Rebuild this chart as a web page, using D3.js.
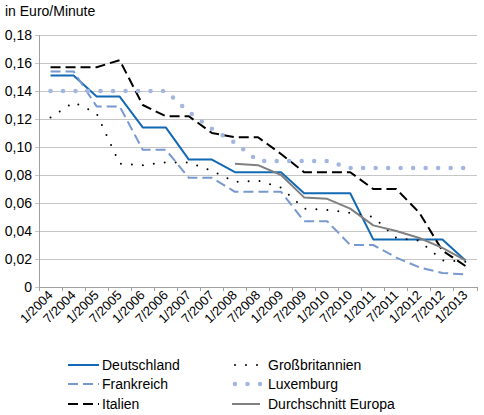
<!DOCTYPE html>
<html><head><meta charset="utf-8">
<script src="https://cdn.jsdelivr.net/npm/d3@7"></script>
<style>
body{margin:0;background:#fff;}
svg{display:block;font-family:Arial,"Liberation Sans",Helvetica,sans-serif;}
</style></head>
<body><svg id="c" width="484" height="415"></svg>
<script>
const categories = ["1/2004","7/2004","1/2005","7/2005","1/2006","7/2006","1/2007","7/2007","1/2008","7/2008","1/2009","7/2009","1/2010","7/2010","1/2011","7/2011","1/2012","7/2012","1/2013"];
const yTicks = [0,0.02,0.04,0.06,0.08,0.10,0.12,0.14,0.16,0.18];
const deutschland = [0.151,0.151,0.136,0.136,0.114,0.114,0.091,0.091,0.082,0.082,0.082,0.067,0.067,0.067,0.034,0.034,0.034,0.034,0.019];
const frankreich  = [0.154,0.154,0.129,0.129,0.098,0.098,0.078,0.078,0.068,0.068,0.068,0.047,0.047,0.030,0.030,0.021,0.014,0.010,0.009];
const italien     = [0.157,0.157,0.157,0.162,0.130,0.122,0.122,0.110,0.107,0.107,0.095,0.082,0.082,0.082,0.070,0.070,0.053,0.026,0.015];
const grossbritannien = [0.121,0.132,0.124,0.088,0.087,0.089,0.089,0.083,0.075,0.076,0.071,0.056,0.055,0.053,0.050,0.035,0.033,0.019,0.018];
const luxemburg   = [0.140,0.140,0.140,0.140,0.140,0.140,0.125,0.113,0.103,0.090,0.090,0.090,0.090,0.085,0.085,0.085,0.085,0.085,0.085];
const europa      = [null,null,null,null,null,null,null,null,0.088,0.087,0.080,0.064,0.063,0.056,0.044,0.040,0.035,0.028,0.019];

const seriesNames = ["Deutschland","Frankreich","Italien","Großbritannien","Luxemburg","Durchschnitt Europa"];
const seriesData = [deutschland,frankreich,italien,grossbritannien,luxemburg,europa];
const styles = [
  {color:"#1369b4", w:2, dash:null, cap:"butt"},
  {color:"#7898d0", w:2, dash:"10,5", cap:"butt"},
  {color:"#000000", w:2, dash:"10,5", cap:"butt"},
  {color:"#000000", w:2, dash:"0,11", cap:"round"},
  {color:"#a3b6e0", w:4.5, dash:"0,12.5", cap:"round"},
  {color:"#808080", w:2, dash:null, cap:"butt"}
];

const svg = d3.select("#c");
const L = 39, R = 477, T = 35, B = 287;
const x = d3.scaleBand().domain(categories).range([L,R]).padding(0);
const y = d3.scaleLinear().domain([0,0.18]).range([B,T]);
const cx = c => x(c) + x.bandwidth()/2;

svg.append("text").attr("x",5).attr("y",16).attr("font-size",14).attr("fill","#000").text("in Euro/Minute");

// grid
const grid = svg.append("g");
yTicks.filter(t=>t>0).forEach(t=>{
  grid.append("line").attr("x1",L-4).attr("x2",R).attr("y1",y(t)).attr("y2",y(t))
    .attr("stroke","#c6c6c6").attr("stroke-width",1).attr("shape-rendering","crispEdges");
});
const yAxis = d3.axisLeft(y).tickValues(yTicks).tickSize(4)
  .tickFormat(d => d===0 ? "0" : d3.format(".2f")(d).replace(".",","));
const ga = svg.append("g").attr("transform",`translate(${L},0)`).call(yAxis);
ga.select(".domain").attr("stroke","#a0a0a0");
ga.selectAll(".tick line").attr("stroke","#c6c6c6");
ga.selectAll(".tick text").attr("font-size",14).attr("fill","#000").attr("x",-7).attr("font-family","Arial,'Liberation Sans',sans-serif");

// x axis
const xAxis = d3.axisBottom(x).tickSize(0).tickSizeOuter(0);
const gx = svg.append("g").attr("transform",`translate(0,${B})`).call(xAxis);
gx.select(".domain").attr("stroke","#a0a0a0");
gx.selectAll(".tick text").attr("font-size",13).attr("fill","#000")
  .attr("font-family","Arial,'Liberation Sans',sans-serif")
  .attr("text-anchor","end").attr("dy",0).attr("y",0)
  .attr("transform","translate(3,9) rotate(-45)");
categories.concat(["__end"]).forEach((c,i)=>{
  const xp = i < categories.length ? x(c) : R;
  gx.append("line").attr("x1",xp).attr("x2",xp).attr("y1",0).attr("y2",4).attr("stroke","#a0a0a0").attr("shape-rendering","crispEdges");
});

// lines
const line = d3.line().defined(d=>d[1]!==null).x(d=>cx(d[0])).y(d=>y(d[1]));
seriesData.forEach((arr,i)=>{
  const s = styles[i];
  svg.append("path").datum(categories.map((c,j)=>[c,arr[j]]))
    .attr("d",line).attr("fill","none").attr("stroke",s.color).attr("stroke-width",s.w)
    .attr("stroke-dasharray",s.dash).attr("stroke-linecap",s.cap).attr("stroke-linejoin","round");
});

// legend
const lg = svg.append("g");
const legPos = [[68,365],[68,384],[68,404],[232,365],[232,384],[232,404]];
seriesNames.forEach((n,i)=>{
  const s = styles[i], p = legPos[i];
  const len = i<3 ? 31 : 28;
  let x1 = p[0], x2 = p[0]+len;
  if (s.cap==="round"){ x1 = p[0]+3; x2 = p[0]+29; }
  lg.append("line").attr("x1",x1).attr("x2",x2).attr("y1",p[1]).attr("y2",p[1])
    .attr("stroke",s.color).attr("stroke-width",s.w).attr("stroke-dasharray",s.dash)
    .attr("stroke-linecap",s.cap);
  lg.append("text").attr("x", i<3 ? 102 : 268).attr("y",p[1]).attr("dy","0.35em")
    .attr("font-size",14).attr("fill","#000").text(n);
});
</script></body></html>
